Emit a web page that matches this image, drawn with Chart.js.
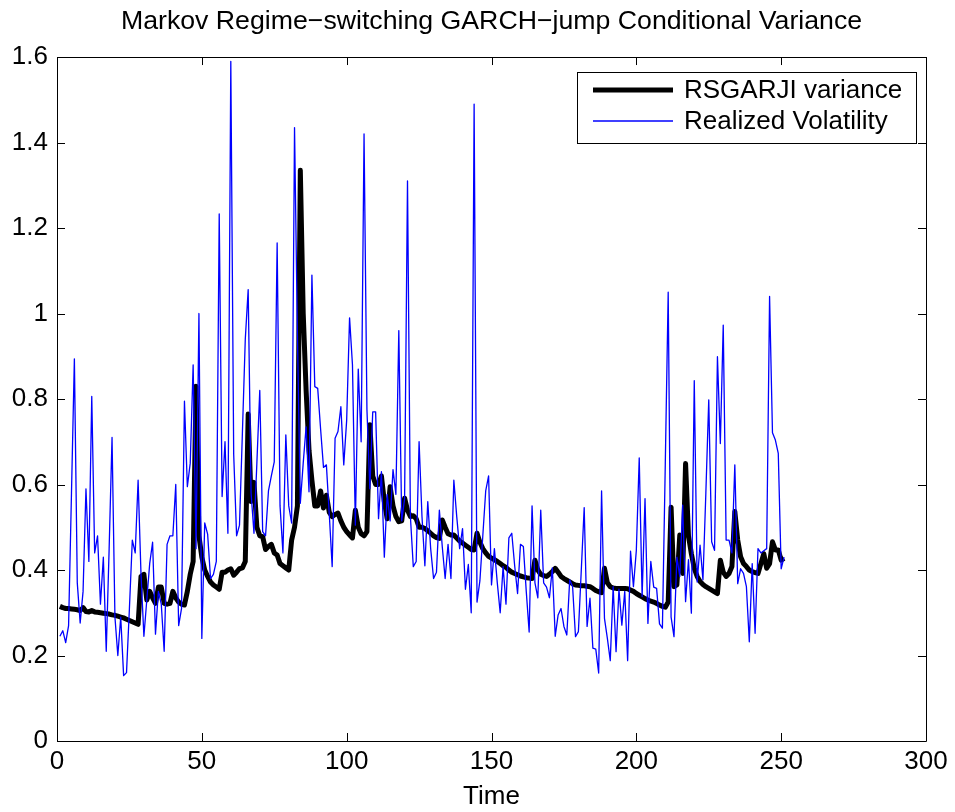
<!DOCTYPE html>
<html>
<head>
<meta charset="utf-8">
<script src="https://cdn.jsdelivr.net/npm/chart.js@4.4.1/dist/chart.umd.min.js"></script>
<style>
    html, body { margin: 0; padding: 0; background: #ffffff; }
    #app { width: 955px; height: 812px; }
</style>
</head>
<body>
<div id="app"><canvas id="myChart" width="955" height="812"></canvas></div>
<script>

// Zeitachse ist einfach der Index 1..251
let xTicks = [0, 50, 100, 150, 200, 250, 300];
let yTicks = [0, 0.2, 0.4, 0.6, 0.8, 1, 1.2, 1.4, 1.6];
let yTickLabels = ["0", "0.2", "0.4", "0.6", "0.8", "1", "1.2", "1.4", "1.6"];

let rsgarjiVarianz =
[
    0.315, 0.312, 0.31, 0.31, 0.309, 0.308, 0.307, 0.305, 0.312, 0.303,
    0.302, 0.305, 0.302, 0.301, 0.30, 0.299, 0.298, 0.297, 0.295, 0.294,
    0.292, 0.29, 0.288, 0.285, 0.282, 0.279, 0.276, 0.273, 0.385, 0.39,
    0.33, 0.35, 0.335, 0.322, 0.36, 0.36, 0.322, 0.32, 0.322, 0.35,
    0.335, 0.325, 0.32, 0.318, 0.35, 0.39, 0.42, 0.83, 0.48, 0.43,
    0.40, 0.385, 0.372, 0.365, 0.36, 0.355, 0.395, 0.395, 0.40, 0.403,
    0.388, 0.395, 0.403, 0.405, 0.42, 0.765, 0.56, 0.605, 0.50, 0.48,
    0.478, 0.448, 0.455, 0.46, 0.44, 0.435, 0.415, 0.41, 0.405, 0.40,
    0.47, 0.50, 0.55, 1.335, 1.0, 0.82, 0.68, 0.61, 0.55, 0.55,
    0.585, 0.545, 0.575, 0.535, 0.525, 0.53, 0.533, 0.515, 0.50, 0.49,
    0.482, 0.475, 0.54, 0.50, 0.485, 0.48, 0.49, 0.74, 0.62, 0.60,
    0.60, 0.62, 0.56, 0.52, 0.595, 0.55, 0.525, 0.513, 0.515, 0.568,
    0.54, 0.525, 0.527, 0.52, 0.50, 0.50, 0.497, 0.492, 0.486, 0.48,
    0.476, 0.474, 0.517, 0.50, 0.485, 0.482, 0.482, 0.475, 0.468, 0.463,
    0.458, 0.453, 0.448, 0.447, 0.486, 0.465, 0.45, 0.44, 0.432, 0.428,
    0.424, 0.42, 0.415, 0.41, 0.406, 0.40, 0.395, 0.392, 0.389, 0.386,
    0.384, 0.382, 0.381, 0.38, 0.423, 0.40, 0.39, 0.387, 0.385, 0.39,
    0.396, 0.404, 0.395, 0.385, 0.38, 0.376, 0.372, 0.368, 0.365, 0.364,
    0.363, 0.363, 0.362, 0.361, 0.357, 0.352, 0.349, 0.347, 0.404, 0.37,
    0.361, 0.358, 0.357, 0.357, 0.357, 0.357, 0.356, 0.353, 0.35, 0.345,
    0.341, 0.337, 0.333, 0.33, 0.327, 0.325, 0.322, 0.318, 0.315, 0.313,
    0.325, 0.547, 0.361, 0.365, 0.482, 0.392, 0.649, 0.48, 0.438, 0.404,
    0.385, 0.373, 0.366, 0.361, 0.357, 0.353, 0.349, 0.345, 0.423, 0.395,
    0.385, 0.392, 0.408, 0.537, 0.47, 0.431, 0.415, 0.408, 0.40, 0.396,
    0.394, 0.392, 0.415, 0.438, 0.404, 0.415, 0.466, 0.447, 0.447, 0.423,
    0.427
];

let realisierteVola =
[
    0.245, 0.258, 0.23, 0.27, 0.58, 0.894, 0.37, 0.276, 0.35, 0.59,
    0.42, 0.806, 0.44, 0.48, 0.32, 0.43, 0.21, 0.45, 0.71, 0.29,
    0.20, 0.29, 0.153, 0.16, 0.31, 0.47, 0.44, 0.61, 0.39, 0.245,
    0.33, 0.415, 0.465, 0.25, 0.35, 0.32, 0.21, 0.46, 0.48, 0.48,
    0.60, 0.27, 0.31, 0.795, 0.595, 0.65, 0.88, 0.45, 1.0, 0.24,
    0.51, 0.484, 0.38, 0.39, 0.42, 1.233, 0.572, 0.70, 0.486, 1.59,
    0.67, 0.48, 0.505, 0.72, 0.94, 1.056, 0.58, 0.486, 0.65, 0.82,
    0.49, 0.48, 0.585, 0.62, 0.653, 1.165, 0.55, 0.44, 0.716, 0.55,
    0.51, 1.435, 0.95, 0.556, 0.65, 0.735, 0.583, 1.09, 0.829, 0.825,
    0.73, 0.64, 0.646, 0.53, 0.408, 0.708, 0.724, 0.782, 0.646, 0.75,
    0.99, 0.88, 0.505, 0.87, 0.70, 1.42, 0.775, 0.59, 0.77, 0.77,
    0.52, 0.63, 0.43, 0.577, 0.515, 0.635, 0.577, 0.96, 0.515, 0.567,
    1.31, 0.525, 0.408, 0.42, 0.70, 0.525, 0.41, 0.56, 0.45, 0.38,
    0.395, 0.54, 0.455, 0.38, 0.46, 0.38, 0.61, 0.525, 0.45, 0.497,
    0.355, 0.413, 0.30, 1.49, 0.325, 0.375, 0.48, 0.585, 0.62, 0.365,
    0.45, 0.37, 0.30, 0.408, 0.32, 0.475, 0.486, 0.41, 0.345, 0.46,
    0.455, 0.35, 0.255, 0.55, 0.37, 0.335, 0.54, 0.37, 0.36, 0.335,
    0.405, 0.245, 0.295, 0.31, 0.268, 0.248, 0.377, 0.361, 0.244, 0.256,
    0.40, 0.546, 0.268, 0.334, 0.217, 0.215, 0.159, 0.585, 0.287, 0.24,
    0.188, 0.361, 0.209, 0.355, 0.271, 0.35, 0.188, 0.444, 0.361, 0.446,
    0.662, 0.338, 0.567, 0.275, 0.42, 0.36, 0.357, 0.274, 0.264, 0.65,
    1.05, 0.29, 0.244, 0.43, 0.385, 0.552, 0.326, 0.424, 0.299, 0.843,
    0.372, 0.458, 0.377, 0.58, 0.798, 0.466, 0.446, 0.899, 0.696, 0.973,
    0.47, 0.47, 0.44, 0.646, 0.368, 0.403, 0.392, 0.361, 0.232, 0.415,
    0.252, 0.45, 0.44, 0.445, 0.45, 1.04, 0.721, 0.704, 0.673, 0.403,
    0.43
];

const schrift = "'Liberation Sans', Arial, Helvetica, sans-serif";

function punkte(werte)
{
    return werte.map((w, i) => ({ x: i + 1, y: w }));
}

// Rahmen mit Ticks nach innen, wie bei MATLAB
const rahmen =
{
    id: 'rahmen',
    afterDatasetsDraw(chart)
    {
        const ctx = chart.ctx;
        const a = chart.chartArea;
        const sx = chart.scales.x;
        const sy = chart.scales.y;
        const len = 8;

        ctx.save();
        ctx.strokeStyle = '#000000';
        ctx.lineWidth = 1;
        ctx.beginPath();
        for (const v of xTicks)
        {
            const px = Math.round(sx.getPixelForValue(v)) + 0.5;
            ctx.moveTo(px, a.bottom);
            ctx.lineTo(px, a.bottom - len);
            ctx.moveTo(px, a.top);
            ctx.lineTo(px, a.top + len);
        }
        for (const v of yTicks)
        {
            const py = Math.round(sy.getPixelForValue(v)) + 0.5;
            ctx.moveTo(a.left, py);
            ctx.lineTo(a.left + len, py);
            ctx.moveTo(a.right, py);
            ctx.lineTo(a.right - len, py);
        }
        ctx.rect(Math.round(a.left) + 0.5, Math.round(a.top) + 0.5, Math.round(a.right - a.left), Math.round(a.bottom - a.top));
        ctx.stroke();
        ctx.restore();
    }
};

// Legende oben rechts im Plot mit Kasten
const legende =
{
    id: 'legende',
    afterDraw(chart)
    {
        const ctx = chart.ctx;
        const a = chart.chartArea;
        const ds = chart.data.datasets;

        ctx.save();
        ctx.font = "26px " + schrift;
        const textBreite = Math.max(...ds.map(d => ctx.measureText(d.label).width));
        const w = Math.round(107 + textBreite + 14);
        const h = 71;
        const x0 = Math.round(a.right - 10 - w);
        const y0 = Math.round(a.top + 15);

        ctx.fillStyle = '#ffffff';
        ctx.fillRect(x0, y0, w, h);
        ctx.strokeStyle = '#000000';
        ctx.lineWidth = 1;
        ctx.strokeRect(x0 + 0.5, y0 + 0.5, w, h);

        ds.forEach((d, i) =>
        {
            const y = y0 + 18 + i * 31;
            ctx.beginPath();
            ctx.strokeStyle = d.borderColor;
            ctx.lineWidth = d.borderWidth;
            ctx.moveTo(x0 + 16, y);
            ctx.lineTo(x0 + 96, y);
            ctx.stroke();
            ctx.fillStyle = '#000000';
            ctx.textAlign = 'left';
            ctx.textBaseline = 'middle';
            ctx.fillText(d.label, x0 + 107, y + 1);
        });
        ctx.restore();
    }
};

const config =
{
    type: 'line',
    data:
    {
        datasets:
        [
            {
                label: 'RSGARJI variance',
                data: punkte(rsgarjiVarianz),
                borderColor: '#000000',
                borderWidth: 5,
                borderJoinStyle: 'round',
                order: 1
            },
            {
                label: 'Realized Volatility',
                data: punkte(realisierteVola),
                borderColor: '#0000ff',
                borderWidth: 1.3,
                borderJoinStyle: 'round',
                order: 0
            }
        ]
    },
    options:
    {
        responsive: false,
        animation: false,
        devicePixelRatio: 1,
        layout: { padding: { left: 0, right: 29, top: 0, bottom: 0 } },
        elements:
        {
            point: { radius: 0 },
            line: { tension: 0, fill: false }
        },
        plugins:
        {
            legend: { display: false },
            tooltip: { enabled: false },
            title:
            {
                display: true,
                fullSize: false,
                text: 'Markov Regime\u2212switching GARCH\u2212jump Conditional Variance',
                color: '#000000',
                font: { family: schrift, size: 26.7, weight: 'normal' },
                padding: { top: 6, bottom: 19 }
            }
        },
        scales:
        {
            x:
            {
                type: 'linear',
                min: 0,
                max: 300,
                afterBuildTicks: s => { s.ticks = xTicks.map(v => ({ value: v })); },
                afterFit: s => { s.height = 71; },
                grid: { display: false, drawTicks: false },
                border: { display: false },
                ticks:
                {
                    color: '#000000',
                    font: { family: schrift, size: 26 },
                    padding: 5,
                    maxRotation: 0,
                    callback: v => String(v)
                },
                title:
                {
                    display: true,
                    text: 'Time',
                    color: '#000000',
                    font: { family: schrift, size: 26 },
                    padding: { top: 0, bottom: 0 }
                }
            },
            y:
            {
                type: 'linear',
                min: 0,
                max: 1.6,
                afterBuildTicks: s => { s.ticks = yTicks.map(v => ({ value: v })); },
                afterFit: s => { s.width = 57; },
                grid: { display: false, drawTicks: false },
                border: { display: false },
                ticks:
                {
                    color: '#000000',
                    font: { family: schrift, size: 26 },
                    padding: 9,
                    callback: (v, i) => yTickLabels[i]
                }
            }
        }
    },
    plugins: [rahmen, legende]
};

new Chart(document.getElementById("myChart"), config);

</script>
</body>
</html>
